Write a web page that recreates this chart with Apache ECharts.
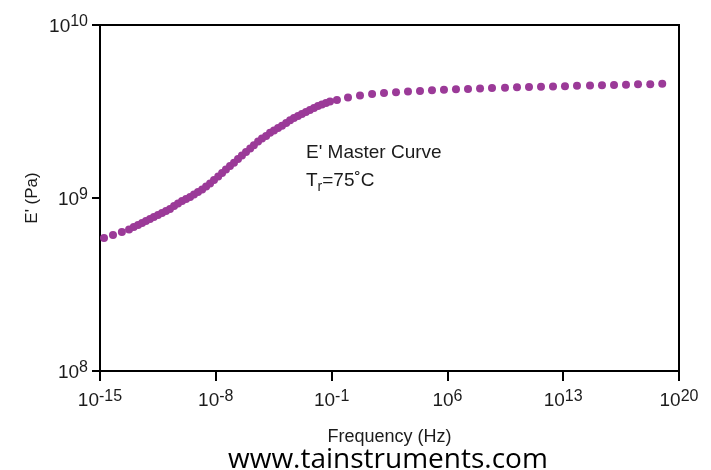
<!DOCTYPE html>
<html>
<head>
<meta charset="utf-8">
<script src="https://cdn.jsdelivr.net/npm/echarts@6/dist/echarts.min.js"></script>
<style>
html,body{margin:0;padding:0;background:#fff;}
#chart{width:711px;height:470px;}
</style>
</head>
<body>
<div id="chart"></div>
<script>
// Frequency (Hz) of each point on the master curve
var frequencyHz = [
  1.75e-15, 6.1e-15, 2.1e-14, 5.7e-14,
  1.1e-13, 2.0e-13, 3.5e-13, 6.0e-13, 1.05e-12, 1.8e-12, 3.2e-12, 5.6e-12, 9.8e-12,
  1.7e-11, 3.0e-11, 5.2e-11, 9.1e-11, 1.6e-10, 2.8e-10, 4.8e-10, 8.4e-10,
  1.5e-9, 2.6e-9, 4.5e-9, 7.8e-9, 1.4e-8, 2.4e-8, 4.1e-8, 7.2e-8,
  1.26e-7, 2.2e-7, 3.8e-7, 6.7e-7, 1.2e-6, 2.0e-6, 3.6e-6, 6.2e-6,
  1.1e-5, 1.9e-5, 3.3e-5, 5.8e-5, 1.0e-4, 1.8e-4, 3.1e-4, 5.3e-4, 9.3e-4,
  1.6e-3, 2.8e-3, 4.9e-3, 8.6e-3, 1.5e-2, 2.6e-2, 4.6e-2, 8.0e-2,
  0.21, 0.98, 5.2, 28, 147, 782, 4150, 22100, 1.17e5, 6.2e5, 3.3e6, 1.76e7, 9.4e7,
  4.97e8, 3.03e9, 1.61e10, 8.55e10, 4.55e11, 2.42e12, 1.28e13, 6.82e13,
  4.17e14, 2.21e15, 1.18e16, 6.25e16, 3.33e17, 1.83e18, 9.7e18
];
// Storage modulus E' (Pa)
var storageModulusPa = [
  5.87e8, 6.11e8, 6.36e8, 6.58e8,
  6.80e8, 6.98e8, 7.17e8, 7.36e8, 7.56e8, 7.77e8, 7.98e8, 8.19e8, 8.41e8,
  8.64e8, 8.99e8, 9.30e8, 9.61e8, 9.87e8, 1.014e9, 1.047e9, 1.083e9,
  1.12e9, 1.165e9, 1.213e9, 1.27e9, 1.33e9, 1.395e9, 1.46e9, 1.53e9,
  1.60e9, 1.68e9, 1.76e9, 1.845e9, 1.93e9, 2.02e9, 2.12e9, 2.21e9,
  2.28e9, 2.38e9, 2.455e9, 2.54e9, 2.62e9, 2.71e9, 2.81e9, 2.90e9, 2.98e9,
  3.06e9, 3.14e9, 3.23e9, 3.31e9, 3.40e9, 3.47e9, 3.54e9, 3.61e9,
  3.69e9, 3.81e9, 3.91e9, 3.99e9, 4.05e9, 4.09e9, 4.13e9, 4.16e9, 4.19e9, 4.22e9, 4.25e9, 4.27e9, 4.30e9,
  4.32e9, 4.34e9, 4.36e9, 4.38e9, 4.39e9, 4.41e9, 4.43e9, 4.45e9,
  4.47e9, 4.48e9, 4.50e9, 4.52e9, 4.54e9, 4.55e9, 4.58e9
];
// Axis ranges / tick exponents
var xTickExponents = [-15, -8, -1, 6, 13, 20];
var yTickExponents = [8, 9, 10];

var seriesData = frequencyHz.map(function (f, i) { return [f, storageModulusPa[i]]; });

var FONT = "'Liberation Sans', Arial, sans-serif";
var TXT = '#1b1b1b';

function powLabel(v) {
  var e = Math.round(Math.log10(v));
  return '{b|10}{s|' + e + '}';
}
var richX = {
  b: { fontFamily: FONT, fontSize: 19, color: TXT, verticalAlign: 'bottom' },
  s: { fontFamily: FONT, fontSize: 16, color: TXT, verticalAlign: 'top', padding: [0, 0, 5, 0] }
};
var richY = {
  b: { fontFamily: FONT, fontSize: 19, color: TXT, verticalAlign: 'bottom' },
  s: { fontFamily: FONT, fontSize: 16, color: TXT, verticalAlign: 'top', padding: [0, 0, 7, 0] }
};

var chart = echarts.init(document.getElementById('chart'), null, { renderer: 'canvas' });
chart.setOption({
  backgroundColor: '#ffffff',
  animation: false,
  grid: {
    left: 100, right: 32, top: 25, bottom: 99,
    show: true, borderColor: '#000', borderWidth: 2, backgroundColor: 'transparent'
  },
  xAxis: {
    type: 'log',
    logBase: 10,
    min: Math.pow(10, xTickExponents[0]),
    max: Math.pow(10, xTickExponents[xTickExponents.length - 1]),
    interval: 7,
    name: 'Frequency (Hz)',
    nameLocation: 'middle',
    nameGap: 57,
    nameMoveOverlap: false,
    nameTextStyle: { fontFamily: FONT, fontSize: 18, color: TXT },
    axisLine: { show: true, lineStyle: { color: '#000', width: 2 } },
    axisTick: { show: true, length: 10, lineStyle: { color: '#000', width: 2 } },
    minorTick: { show: false },
    splitLine: { show: false },
    axisLabel: {
      margin: 18,
      formatter: powLabel,
      rich: richX,
      showMinLabel: true, showMaxLabel: true
    }
  },
  yAxis: {
    type: 'log',
    logBase: 10,
    min: Math.pow(10, yTickExponents[0]),
    max: Math.pow(10, yTickExponents[yTickExponents.length - 1]),
    interval: 1,
    name: "E' (Pa)",
    nameLocation: 'middle',
    nameGap: 59,
    nameMoveOverlap: false,
    nameTextStyle: { fontFamily: FONT, fontSize: 17, color: TXT },
    axisLine: { show: true, lineStyle: { color: '#000', width: 2 } },
    axisTick: { show: true, length: 8, lineStyle: { color: '#000', width: 2 } },
    splitLine: { show: false },
    axisLabel: {
      margin: 12,
      formatter: powLabel,
      rich: richY,
      showMinLabel: true, showMaxLabel: true
    }
  },
  series: [{
    type: 'scatter',
    data: seriesData,
    symbol: 'circle',
    symbolSize: 8,
    itemStyle: { color: '#9b3a98', opacity: 1 },
    z: 3
  }],
  graphic: [
    {
      type: 'text', left: 306, top: 143,
      style: { text: "E' Master Curve", font: '19px ' + FONT, fill: TXT }
    },
    {
      type: 'text', left: 306, top: 171,
      style: {
        text: '{a|T}{r|r}{a|=75˚C}',
        rich: {
          a: { fontFamily: FONT, fontSize: 19, fill: TXT, color: TXT, verticalAlign: 'top' },
          r: { fontFamily: FONT, fontSize: 14, fill: TXT, color: TXT, verticalAlign: 'bottom', padding: [9, 0, 0, 0] }
        }
      }
    },
    {
      type: 'text', left: 228, top: 446,
      style: { text: 'www.tainstruments.com', font: '28px "Open Sans", "Noto Sans", sans-serif', fill: '#000' }
    }
  ]
});
</script>
</body>
</html>
